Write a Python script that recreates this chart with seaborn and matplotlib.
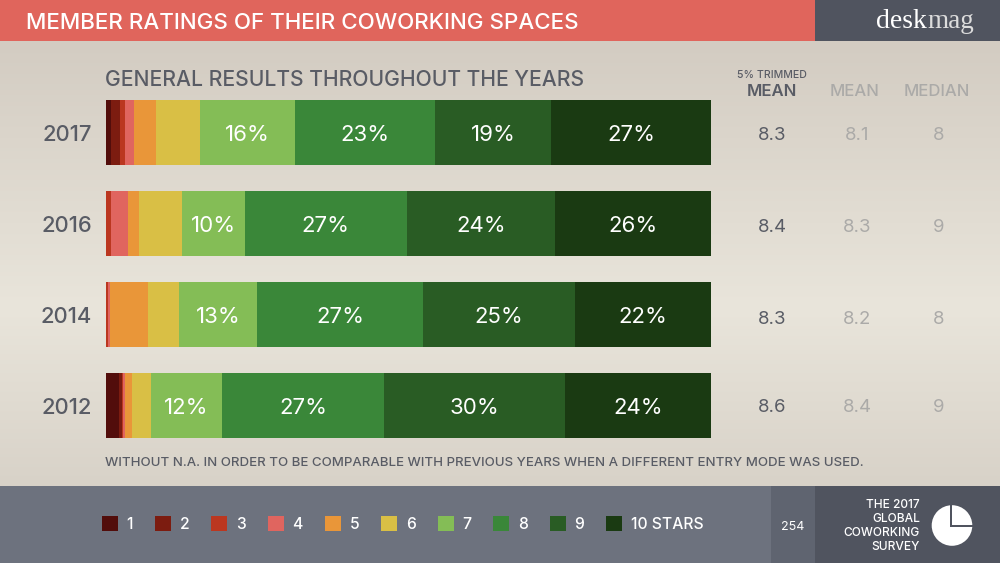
import numpy as np
import pandas as pd
import matplotlib
matplotlib.use("Agg")
import matplotlib.pyplot as plt
from matplotlib.patches import Patch, Rectangle, Circle
import seaborn as sns

years = ["2017", "2016", "2014", "2012"]
r1 = [0.9, 0.0, 0.0, 2.2]
r2 = [1.4, 0.0, 0.0, 0.5]
r3 = [0.9, 0.8, 0.3, 0.1]
r4 = [1.4, 2.8, 0.4, 0.3]
r5 = [3.7, 1.8, 6.3, 1.2]
r6 = [7.2, 7.1, 5.1, 3.1]
r7 = [15.7, 10.4, 12.9, 11.8]
r8 = [23.1, 26.8, 27.4, 26.7]
r9 = [19.3, 24.5, 25.1, 29.9]
r10 = [26.4, 25.8, 22.5, 24.2]
rating_values = [r1, r2, r3, r4, r5, r6, r7, r8, r9, r10]
rating_names = ["1", "2", "3", "4", "5", "6", "7", "8", "9", "10 STARS"]
colors = ["#520d0b", "#7c1c10", "#bb3720", "#e0655f", "#e99639",
          "#d9bf45", "#84bd56", "#3a8739", "#295c24", "#1a3a12"]
labels7 = ["16%", "10%", "13%", "12%"]
labels8 = ["23%", "27%", "27%", "27%"]
labels9 = ["19%", "24%", "25%", "30%"]
labels10 = ["27%", "26%", "22%", "24%"]
trimmed = ["8.3", "8.4", "8.3", "8.6"]
means = ["8.1", "8.3", "8.2", "8.4"]
medians = ["8", "9", "8", "9"]

FONT = "Inter"
sns.set_theme(style="white")
plt.rcParams["font.family"] = [FONT, "DejaVu Sans"]

W, H = 1000, 563
fig = plt.figure(figsize=(10, 5.63), dpi=100)

# page furniture, in pixel coordinates
bg = fig.add_axes([0, 0, 1, 1], zorder=0)
bg.axis("off")
cmap = matplotlib.colors.LinearSegmentedColormap.from_list(
    "paper", [(0, "#d3ccc2"), (0.6, "#e9e5db"), (1, "#d8d2c8")])
bg.imshow(np.linspace(0, 1, 256)[:, None], extent=[0, W, 486, 41], cmap=cmap, aspect="auto")
bg.set_xlim(0, W)
bg.set_ylim(H, 0)
for x, y, w, h, c in [(0, 0, 815, 41, "#e0655c"), (815, 0, 185, 41, "#50545f"),
                      (0, 486, 771, 77, "#6d727e"), (771, 486, 44, 77, "#5f6470"),
                      (815, 486, 185, 77, "#50545f")]:
    bg.add_patch(Rectangle((x, y), w, h, color=c, lw=0))

DARK = "#595c65"
GREY = "#abaaa8"
bg.text(26, 21, "MEMBER RATINGS OF THEIR COWORKING SPACES", color="white", fontsize=16.1,
        fontweight="medium", va="center_baseline")
bg.text(876, 28, "desk", color="white", fontsize=20, family="Liberation Serif", va="baseline")
bg.text(927, 28, "mag", color="#dcdcdc", fontsize=19.5, family="Liberation Serif", va="baseline")
bg.text(105, 78, "GENERAL RESULTS THROUGHOUT THE YEARS", color=DARK, fontsize=15.2,
        fontweight="medium", va="center_baseline")
bg.text(105, 462, "WITHOUT N.A. IN ORDER TO BE COMPARABLE WITH PREVIOUS YEARS WHEN A DIFFERENT ENTRY MODE WAS USED.",
        color=DARK, fontsize=9.55, fontweight="medium", va="center_baseline")
bg.text(772, 74, "5% TRIMMED", color=DARK, fontsize=7.6, fontweight="medium", ha="center", va="center_baseline")
bg.text(772, 90, "MEAN", color=DARK, fontsize=12, fontweight="semibold", ha="center", va="center_baseline")
bg.text(854.5, 90, "MEAN", color=GREY, fontsize=12, fontweight="medium", ha="center", va="center_baseline")
bg.text(936.5, 90, "MEDIAN", color=GREY, fontsize=12, fontweight="medium", ha="center", va="center_baseline")
for i, yc in enumerate([134, 225, 317, 406]):
    bg.text(772, yc, trimmed[i], color=DARK, fontsize=13.4, ha="center", va="center_baseline")
    bg.text(857, yc, means[i], color=GREY, fontsize=13.4, ha="center", va="center_baseline")
    bg.text(939, yc, medians[i], color=GREY, fontsize=13.4, ha="center", va="center_baseline")
bg.text(793, 525, "254", color="white", fontsize=9, ha="center", va="center_baseline")
for yc, line in zip([504, 517, 531, 545], ["THE 2017", "GLOBAL", "COWORKING", "SURVEY"]):
    bg.text(920, yc, line, color="white", fontsize=8.6, fontweight="medium", ha="right", va="center_baseline")
bg.add_patch(Circle((952, 525.5), 20.3, color="white", lw=0))
bg.add_patch(Rectangle((950, 505), 2, 21, color="#50545f", lw=0))
bg.add_patch(Rectangle((950, 524.5), 23, 2, color="#50545f", lw=0))

# chart: x 106..711 px is 0..100 %, row pitch 91 px
ax = fig.add_axes([106 / W, 1 - 451.2 / H, 605 / W, 364 / H], zorder=1)
ax.patch.set_alpha(0)
df = pd.DataFrame(dict(zip(rating_names, rating_values)))
df["year"] = years
left = np.zeros(len(years))
for name, color in zip(rating_names, colors):
    sns.barplot(data=df, x=name, y="year", order=years, orient="h", left=left, color=color,
                saturation=1, width=0.718, linewidth=0, ax=ax)
    left = left + df[name].to_numpy()
for k, labs in zip([6, 7, 8, 9], [labels7, labels8, labels9, labels10]):
    for t in ax.bar_label(ax.containers[k], labels=labs, label_type="center", color="white", fontsize=16):
        t.set_va("center_baseline")
ax.set_xlim(0, 100)
ax.set_ylim(3.5, -0.5)
ax.set_xlabel("")
ax.set_ylabel("")
ax.set_xticks([])
ax.tick_params(axis="y", length=0, pad=10, labelsize=15.8, labelcolor=DARK)
for t in ax.get_yticklabels():
    t.set_fontweight("medium")
sns.despine(ax=ax, left=True, bottom=True)

handles = [Patch(facecolor=c, edgecolor="none", label=n) for n, c in zip(rating_names, colors)]
fig.legend(handles=handles, ncol=10, frameon=False, loc="center left",
           bbox_to_anchor=(102 / W, 1 - 524 / H), borderpad=0, borderaxespad=0,
           handlelength=1.02, handleheight=1.02, handletextpad=0.55, columnspacing=1.4,
           prop={"size": 11.3, "weight": "medium"}, labelcolor="white")
fig.savefig("out.png", dpi=100)
